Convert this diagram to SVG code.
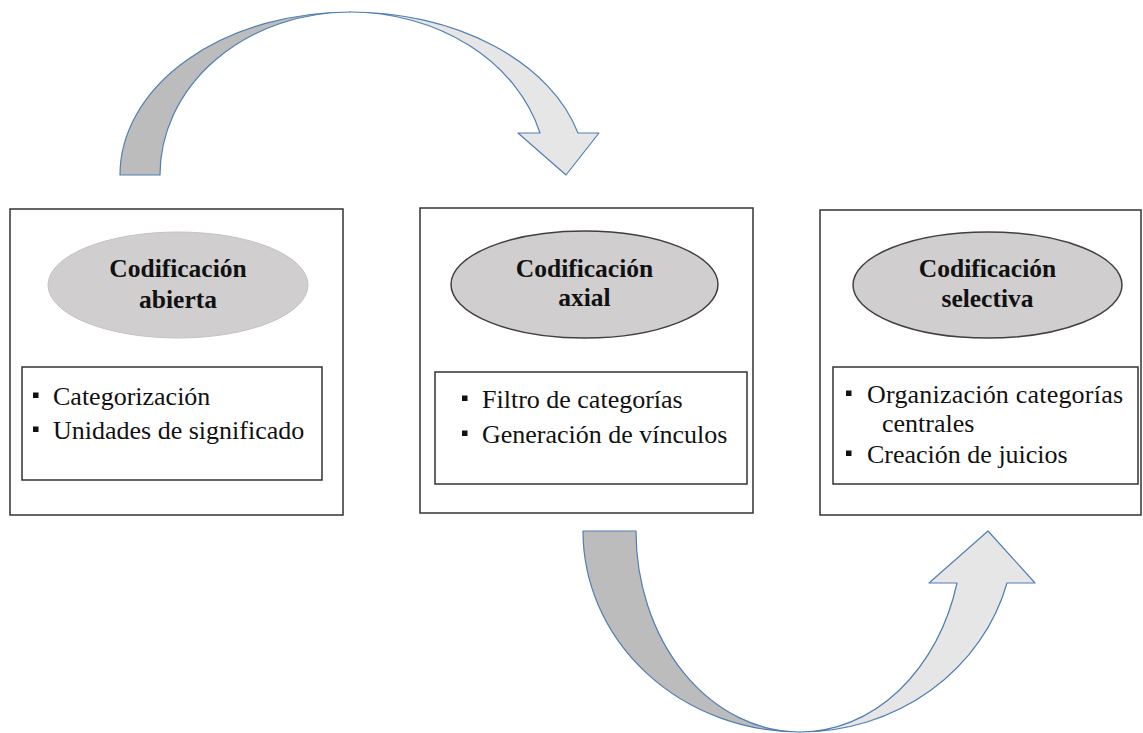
<svg xmlns="http://www.w3.org/2000/svg" width="1143" height="733" viewBox="0 0 1143 733">
<style>
.box{fill:#fff;stroke:#333;stroke-width:1.5}
.ell{fill:#d0cece;stroke:#404040;stroke-width:1.5}
.ell1{fill:#d0cece;stroke:#c4c2c2;stroke-width:1}
.title{font-family:'Liberation Serif','DejaVu Serif',serif;font-weight:bold;font-size:25.5px;fill:#111;text-anchor:middle}
.body{font-family:'Liberation Serif','DejaVu Serif',serif;font-size:26px;fill:#111}
.bul{fill:#111}
.dark{fill:#bcbcbc;stroke:#4f7fb3;stroke-width:1.2;stroke-linejoin:round}
.light{fill:#e6e6e6;stroke:#4f7fb3;stroke-width:1.2;stroke-linejoin:round}
</style>
<rect width="1143" height="733" fill="#fff"/>
<g id="connectors">
  <g id="arrow-top">
    <path class="dark" d="M120,175 A230,163 0 0 1 350,12 A190,163 0 0 0 160,175 Z"/>
    <path class="light" d="M350,12 A236,163 0 0 1 578,133 L599,133 L566,175 L518,133 L540,133 A197,163 0 0 0 350,12 Z"/>
  </g>
  <g id="arrow-bottom">
    <path class="dark" d="M583,531 L636,531 A164,201 0 0 0 800,732 A217,201 0 0 1 583,531 Z"/>
    <path class="light" d="M800,732 A214,201 0 0 0 1007,583 L1035,583 L988,531 L929,583 L957,583 A162.5,201 0 0 1 800,732 Z"/>
  </g>
</g>
<g id="node-abierta">
  <rect class="box" x="10" y="209" width="333" height="306"/>
  <ellipse class="ell1" cx="178" cy="285" rx="130" ry="53"/>
  <text class="title" x="178" y="277" font-family="Liberation Serif, serif">Codificación</text>
  <text class="title" x="178" y="308" font-family="Liberation Serif, serif">abierta</text>
  <rect class="box" x="22" y="367" width="300" height="113"/>
  <rect class="bul" x="33" y="392.5" width="5.5" height="5.5"/>
  <text class="body" x="53" y="405" font-family="Liberation Serif, serif">Categorización</text>
  <rect class="bul" x="33" y="426.5" width="5.5" height="5.5"/>
  <text class="body" x="53" y="439" font-family="Liberation Serif, serif">Unidades de significado</text>
</g>
<g id="node-axial">
  <rect class="box" x="420" y="208" width="333" height="305"/>
  <ellipse class="ell" cx="584.5" cy="284.5" rx="133.5" ry="53.5"/>
  <text class="title" x="584.5" y="277" font-family="Liberation Serif, serif">Codificación</text>
  <text class="title" x="584.5" y="306" font-family="Liberation Serif, serif">axial</text>
  <rect class="box" x="435" y="372" width="312" height="112"/>
  <rect class="bul" x="462" y="395.5" width="5.5" height="5.5"/>
  <text class="body" x="482" y="408" font-family="Liberation Serif, serif">Filtro de categorías</text>
  <rect class="bul" x="462" y="430.5" width="5.5" height="5.5"/>
  <text class="body" x="482" y="443" font-family="Liberation Serif, serif">Generación de vínculos</text>
</g>
<g id="node-selectiva">
  <rect class="box" x="820" y="210" width="321" height="305"/>
  <ellipse class="ell" cx="987.5" cy="285" rx="134.5" ry="53"/>
  <text class="title" x="987.5" y="277" font-family="Liberation Serif, serif">Codificación</text>
  <text class="title" x="987.5" y="307" font-family="Liberation Serif, serif">selectiva</text>
  <rect class="box" x="833" y="367" width="305" height="117"/>
  <rect class="bul" x="846" y="390.5" width="5.5" height="5.5"/>
  <text class="body" x="867" y="403" textLength="256" font-family="Liberation Serif, serif">Organización categorías</text>
  <text class="body" x="882" y="432" font-family="Liberation Serif, serif">centrales</text>
  <rect class="bul" x="846" y="450.5" width="5.5" height="5.5"/>
  <text class="body" x="867" y="463" font-family="Liberation Serif, serif">Creación de juicios</text>
</g>
</svg>
